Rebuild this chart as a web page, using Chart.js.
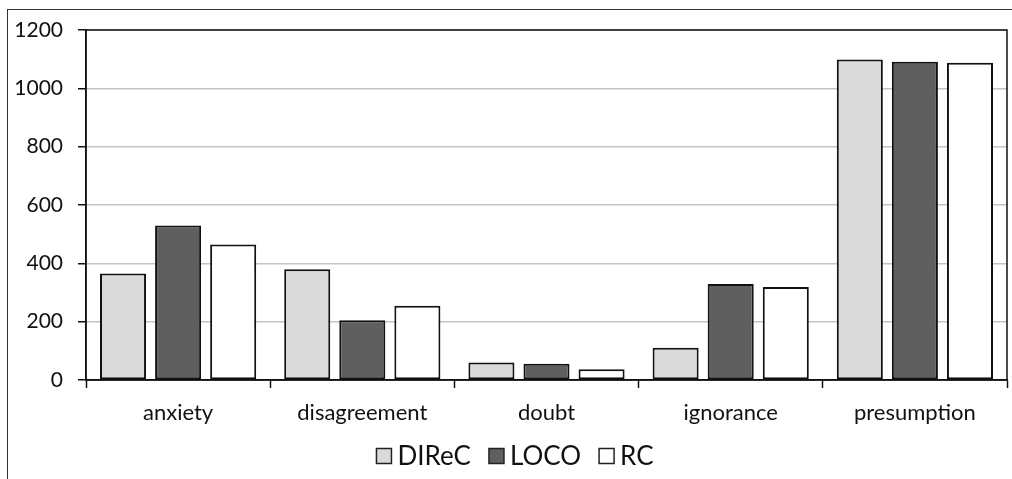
<!DOCTYPE html>
<html>
<head>
<meta charset="utf-8">
<script src="https://cdn.jsdelivr.net/npm/chart.js@4/dist/chart.umd.min.js"></script>
<style>
  html, body { margin: 0; padding: 0; background: #fff; }
  #wrap { position: relative; width: 1012px; height: 479px; overflow: hidden; }
  #frame { position: absolute; left: 7px; top: 9px; width: 1020px; height: 490px;
           border-left: 1.5px solid #333; border-top: 1.5px solid #333; }
  canvas { position: absolute; left: 0; top: 0; }
</style>
</head>
<body>
<div id="wrap">
  <div id="frame"></div>
  <canvas id="chart" width="1012" height="479"></canvas>
</div>
<script>
// categories and series
var categories = ['anxiety', 'disagreement', 'doubt', 'ignorance', 'presumption'];
var direc_values = [365, 380, 60, 111, 1099];
var loco_values = [530, 205, 56, 329, 1091];
var rc_values = [465, 255, 37, 319, 1088];
var y_ticks = [0, 200, 400, 600, 800, 1000, 1200];

var font_family = 'Lato, "Open Sans", sans-serif';
var text_color = '#111';

// box round the plot area (top and right sides)
var plot_box = {
    id: 'plot_box',
    afterDraw: function(chart) {
        var a = chart.chartArea;
        var ctx = chart.ctx;
        ctx.save();
        ctx.strokeStyle = '#111';
        ctx.lineWidth = 1.5;
        ctx.strokeRect(a.left, a.top, a.right - a.left, a.bottom - a.top);
        ctx.restore();
    }
};

// legend drawn by hand so the box sits close to its text, like the original
var bottom_legend = {
    id: 'bottom_legend',
    afterDraw: function(chart) {
        var ctx = chart.ctx;
        var box = 15, gap = 6, item_gap = 18;
        var center_x = 515, center_y = 456;
        ctx.save();
        ctx.font = '26px ' + font_family;
        var sets = chart.data.datasets;
        var total = 0;
        sets.forEach(function(ds, i) {
            total += box + gap + ctx.measureText(ds.label).width;
            if (i < sets.length - 1) total += item_gap;
        });
        var x = center_x - total / 2;
        ctx.textBaseline = 'middle';
        sets.forEach(function(ds) {
            ctx.fillStyle = ds.backgroundColor;
            ctx.fillRect(x, center_y - box / 2, box, box);
            ctx.strokeStyle = '#222';
            ctx.lineWidth = 1.5;
            ctx.strokeRect(x, center_y - box / 2, box, box);
            x += box + gap;
            ctx.fillStyle = text_color;
            ctx.fillText(ds.label, x, center_y + 1);
            x += ctx.measureText(ds.label).width + item_gap;
        });
        ctx.restore();
    }
};

function bar_set(label, data, fill) {
    return {
        label: label,
        data: data,
        backgroundColor: fill,
        borderColor: '#111',
        borderWidth: 2,
        borderSkipped: false,
        categoryPercentage: 0.897,
        barPercentage: 0.836
    };
}

new Chart(document.getElementById('chart'), {
    type: 'bar',
    data: {
        labels: categories,
        datasets: [
            bar_set('DIReC', direc_values, '#dadada'),
            bar_set('LOCO', loco_values, '#5f5f5f'),
            bar_set('RC', rc_values, '#ffffff')
        ]
    },
    options: {
        responsive: false,
        animation: false,
        layout: { padding: { top: 30, right: 5, left: 0, bottom: 39 } },
        plugins: {
            tooltip: { enabled: false },
            legend: { display: false }
        },
        scales: {
            x: {
                offset: true,
                grid: {
                    offset: true,
                    drawOnChartArea: false,
                    drawTicks: true,
                    tickLength: 8,
                    tickColor: '#111',
                    tickWidth: 1.5
                },
                border: { color: '#111', width: 1.5 },
                ticks: {
                    color: text_color,
                    padding: 12,
                    maxRotation: 0,
                    font: { family: font_family, size: 22 }
                },
                afterFit: function(scale) { scale.height = 60; }
            },
            y: {
                min: 0,
                max: 1200,
                afterBuildTicks: function(scale) {
                    scale.ticks = y_ticks.map(function(v) { return { value: v }; });
                },
                grid: {
                    color: '#c4c4c4',
                    lineWidth: 1.5,
                    tickLength: 8,
                    tickColor: '#111',
                    tickWidth: 1.5
                },
                border: { color: '#111', width: 1.5 },
                ticks: {
                    color: text_color,
                    padding: 15,
                    font: { family: font_family, size: 21 },
                    callback: function(value) { return String(value); }
                },
                afterFit: function(scale) { scale.width = 86; }
            }
        }
    },
    plugins: [plot_box, bottom_legend]
});
</script>
</body>
</html>
